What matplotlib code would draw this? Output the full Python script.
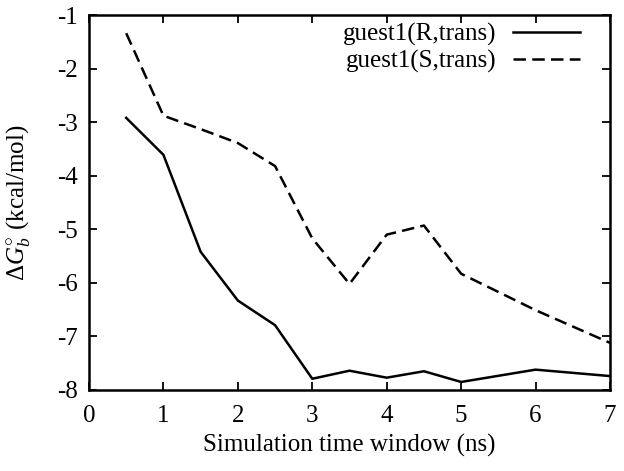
import matplotlib
matplotlib.use("Agg")
import matplotlib.pyplot as plt

x_r = [0.5, 1.0, 1.5, 2.0, 2.5, 3.0, 3.5, 4.0, 4.5, 5.0, 6.0, 7.0]
g_r = [-2.92, -3.61, -5.42, -6.33, -6.79, -7.79, -7.64, -7.77, -7.65, -7.85, -7.62, -7.74]
x_s = [0.5, 1.0, 1.5, 2.0, 2.5, 3.0, 3.5, 4.0, 4.5, 5.0, 6.0, 7.0]
g_s = [-1.34, -2.88, -3.13, -3.39, -3.82, -5.17, -6.02, -5.10, -4.93, -5.83, -6.51, -7.12]
labels = ["guest1(R,trans)", "guest1(S,trans)"]

plt.rcParams['font.family'] = ['Liberation Serif', 'DejaVu Serif']
plt.rcParams['mathtext.fontset'] = 'custom'
plt.rcParams['mathtext.rm'] = 'Liberation Serif'
plt.rcParams['mathtext.it'] = 'Liberation Serif:italic'
plt.rcParams['mathtext.bf'] = 'Liberation Serif:bold'

fs = 18
fig = plt.figure(figsize=(6.24, 4.71), dpi=100)
ax = fig.add_axes([89/624, 1-390/471, (610-89)/624, (390-15)/471])

ax.plot(x_r, g_r, color='black', lw=1.8, label=labels[0])
ax.plot(x_s, g_s, color='black', lw=1.8, dashes=(5, 2.5), label=labels[1])

ax.set_xlim(0, 7)
ax.set_ylim(-8, -1)
ax.set_xticks(range(0, 8))
ax.set_yticks(range(-8, 0))
ax.set_yticklabels([str(v) for v in range(-8, 0)])
ax.tick_params(direction='in', length=6, width=1.3, top=True, right=True,
               labelsize=fs)
ax.tick_params(axis='x', pad=11)
ax.tick_params(axis='y', pad=8)
for s in ax.spines.values():
    s.set_linewidth(1.8)

ax.set_xlabel('Simulation time window (ns)', fontsize=fs, labelpad=5)
ax.set_ylabel(r'$\Delta G^{\circ}_{b}$ (kcal/mol)', fontsize=fs, labelpad=18)

leg = ax.legend(loc='upper right', frameon=False, markerfirst=False,
                fontsize=fs, handlelength=2.7, handletextpad=0.65,
                labelspacing=0.17, borderaxespad=0, borderpad=0,
                bbox_to_anchor=(580/624, 1-23/471),
                bbox_transform=fig.transFigure)
for t in leg.get_texts():
    t.set_ha('right')

fig.savefig('out.png', dpi=100)
